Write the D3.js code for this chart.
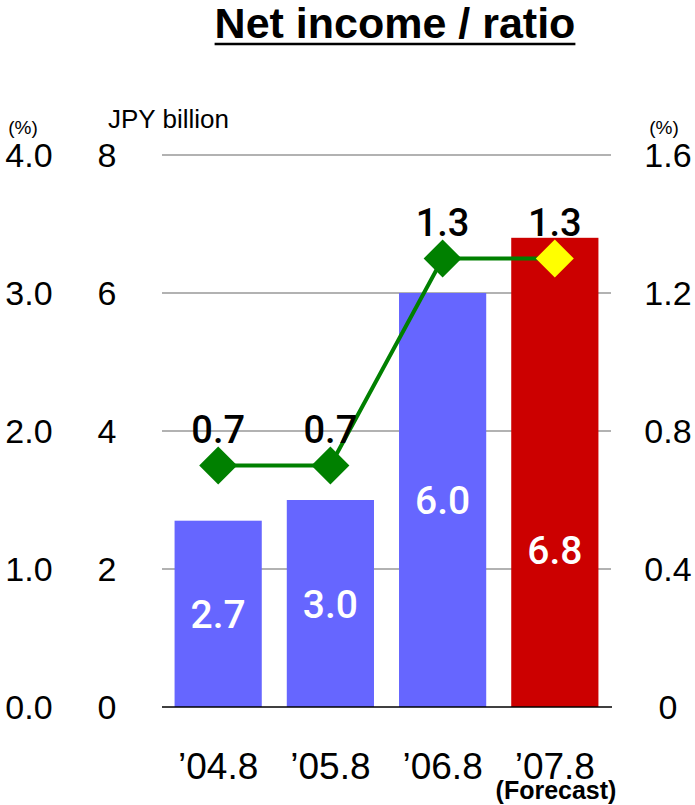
<!DOCTYPE html>
<html>
<head>
<meta charset="utf-8">
<script src="https://cdn.jsdelivr.net/npm/d3@7"></script>
<style>
  html, body { margin: 0; padding: 0; background: #fff; }
  svg { display: block; font-family: "Liberation Sans", Arial, sans-serif; }
</style>
</head>
<body>
<svg id="chart" width="695" height="805"></svg>
<script>
// Net income (JPY billion) and net income ratio (%) by fiscal period
const periods = ["\u201904.8", "\u201905.8", "\u201906.8", "\u201907.8"];
const netIncome = [2.7, 3.0, 6.0, 6.8];
const ratio = [0.7, 0.7, 1.3, 1.3];
const isForecast = [false, false, false, true];

const incomeTicks = [0, 2, 4, 6, 8];
const leftPctTicks = ["0.0", "1.0", "2.0", "3.0", "4.0"];
const rightPctTicks = [0, 0.4, 0.8, 1.2, 1.6];

const svg = d3.select("#chart");
const plot = { left: 162, right: 611, top: 155, bottom: 707 };
const valueFont = "Roboto, 'Liberation Sans', sans-serif";

const x = d3.scaleBand()
  .domain(periods)
  .range([plot.left, plot.right])
  .paddingInner(0.223)
  .paddingOuter(0.112);

const yIncome = d3.scaleLinear().domain([0, 8]).range([plot.bottom, plot.top]);
const yRatio = d3.scaleLinear().domain([0, 1.6]).range([plot.bottom, plot.top]);
const yLeftPct = d3.scaleLinear().domain([0, 4]).range([plot.bottom, plot.top]);

// Title with underline
const title = svg.append("text")
  .attr("x", 395).attr("y", 38)
  .attr("text-anchor", "middle")
  .attr("font-size", 43).attr("font-weight", "bold")
  .attr("fill", "#000")
  .text("Net income / ratio");
const tb = title.node().getBBox();
svg.append("line")
  .attr("x1", tb.x).attr("x2", tb.x + tb.width)
  .attr("y1", 44).attr("y2", 44)
  .attr("stroke", "#000").attr("stroke-width", 2.5);

// Gridlines
svg.append("g").selectAll("line")
  .data(incomeTicks.filter(d => d > 0))
  .join("line")
  .attr("x1", plot.left).attr("x2", plot.right)
  .attr("y1", d => yIncome(d)).attr("y2", d => yIncome(d))
  .attr("stroke", "#999").attr("stroke-width", 1.5);

// Bars
svg.append("g").selectAll("rect")
  .data(periods)
  .join("rect")
  .attr("x", d => x(d))
  .attr("width", x.bandwidth())
  .attr("y", (d, i) => yIncome(netIncome[i]))
  .attr("height", (d, i) => plot.bottom - yIncome(netIncome[i]))
  .attr("fill", (d, i) => isForecast[i] ? "#cc0000" : "#6666ff");

// Baseline
svg.append("line")
  .attr("x1", plot.left).attr("x2", plot.right + 1)
  .attr("y1", plot.bottom).attr("y2", plot.bottom)
  .attr("stroke", "#000").attr("stroke-width", 1.5);

// Bar value labels
svg.append("g").selectAll("text")
  .data(periods)
  .join("text")
  .attr("x", d => x(d) + x.bandwidth() / 2)
  .attr("y", (d, i) => {
    const mid = (yIncome(netIncome[i]) + plot.bottom) / 2;
    return (isForecast[i] ? mid + 78 : mid) + 14;
  })
  .attr("text-anchor", "middle")
  .attr("font-family", valueFont)
  .attr("font-weight", 500)
  .attr("font-size", 39)
  .attr("fill", "#fff")
  .text((d, i) => netIncome[i].toFixed(1));

// Ratio line
const cx = d => x(d) + x.bandwidth() / 2;
svg.append("path")
  .datum(periods)
  .attr("d", d3.line().x(d => cx(d)).y((d, i) => yRatio(ratio[i])))
  .attr("fill", "none")
  .attr("stroke", "#008000")
  .attr("stroke-width", 4);

// Diamond markers
svg.append("g").selectAll("path")
  .data(periods)
  .join("path")
  .attr("transform", (d, i) => `translate(${cx(d)},${yRatio(ratio[i])})`)
  .attr("d", "M0,-19L19,0L0,19L-19,0Z")
  .attr("fill", (d, i) => isForecast[i] ? "#ffff00" : "#008000");

// Ratio labels
svg.append("g").selectAll("text")
  .data(periods)
  .join("text")
  .attr("x", d => cx(d))
  .attr("y", (d, i) => yRatio(ratio[i]) - 23)
  .attr("text-anchor", "middle")
  .attr("font-family", valueFont)
  .attr("font-weight", 500)
  .attr("font-size", 38)
  .attr("fill", "#000")
  .text((d, i) => ratio[i].toFixed(1));

// Left axis (%)
svg.append("g").selectAll("text")
  .data(leftPctTicks)
  .join("text")
  .attr("x", 29)
  .attr("y", d => yLeftPct(+d) + 12)
  .attr("text-anchor", "middle")
  .attr("font-size", 34)
  .text(d => d);

// Income axis
svg.append("g").selectAll("text")
  .data(incomeTicks)
  .join("text")
  .attr("x", 107)
  .attr("y", d => yIncome(d) + 12)
  .attr("text-anchor", "middle")
  .attr("font-size", 34)
  .text(d => d);

// Right axis (%)
svg.append("g").selectAll("text")
  .data(rightPctTicks)
  .join("text")
  .attr("x", 668)
  .attr("y", d => yRatio(d) + 12)
  .attr("text-anchor", "middle")
  .attr("font-size", 34)
  .text(d => d === 0 ? "0" : d.toFixed(1));

// Axis unit captions
svg.append("text").attr("x", 23).attr("y", 134)
  .attr("text-anchor", "middle").attr("font-size", 19).text("(%)");
svg.append("text").attr("x", 664).attr("y", 134)
  .attr("text-anchor", "middle").attr("font-size", 19).text("(%)");
svg.append("text").attr("x", 108).attr("y", 128)
  .attr("font-size", 26).text("JPY billion");

// Category labels
svg.append("g").selectAll("text")
  .data(periods)
  .join("text")
  .attr("x", d => cx(d))
  .attr("y", 779)
  .attr("text-anchor", "middle")
  .attr("font-size", 37)
  .text(d => d);

svg.append("text")
  .attr("x", 556)
  .attr("y", 799)
  .attr("text-anchor", "middle")
  .attr("font-size", 25).attr("font-weight", "bold")
  .text("(Forecast)");
</script>
</body>
</html>
